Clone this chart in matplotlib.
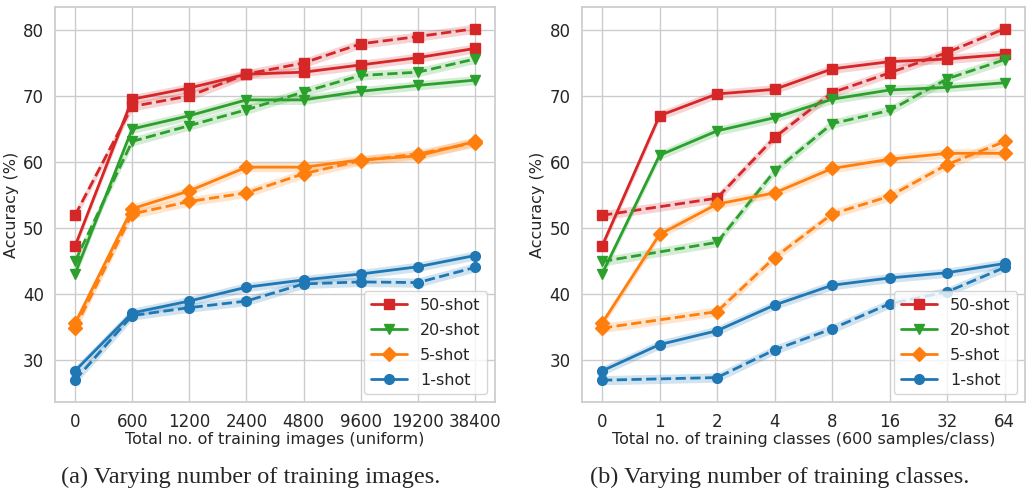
import matplotlib
matplotlib.use("Agg")
import matplotlib.pyplot as plt
import seaborn as sns
import numpy as np

# x tick labels
images_ticks = ["0", "600", "1200", "2400", "4800", "9600", "19200", "38400"]
classes_ticks = ["0", "1", "2", "4", "8", "16", "32", "64"]

shots = ["50-shot", "20-shot", "5-shot", "1-shot"]
colors = ["tab:red", "tab:green", "tab:orange", "tab:blue"]
markers = ["s", "v", "D", "o"]

# (a) varying number of training images: solid / dashed
img_solid = {
    "50-shot": [47.2, 69.5, 71.2, 73.3, 73.6, 74.7, 75.8, 77.2],
    "20-shot": [43.0, 65.0, 67.0, 69.4, 69.4, 70.7, 71.6, 72.4],
    "5-shot": [35.5, 52.9, 55.6, 59.2, 59.2, 60.3, 60.9, 63.1],
    "1-shot": [28.3, 37.1, 38.9, 41.0, 42.1, 43.0, 44.1, 45.8],
}
img_dashed = {
    "50-shot": [51.9, 68.4, 70.0, 73.3, 75.0, 77.9, 79.0, 80.2],
    "20-shot": [44.9, 63.1, 65.5, 67.9, 70.6, 73.1, 73.6, 75.6],
    "5-shot": [34.8, 52.1, 54.0, 55.3, 58.2, 60.2, 61.2, 62.9],
    "1-shot": [26.9, 36.7, 37.9, 38.9, 41.5, 41.8, 41.7, 44.0],
}

# (b) varying number of training classes
cls_solid = {
    "50-shot": [47.2, 67.0, 70.3, 71.0, 74.1, 75.2, 75.6, 76.3],
    "20-shot": [43.0, 61.0, 64.7, 66.7, 69.5, 70.9, 71.3, 72.0],
    "5-shot": [35.5, 49.0, 53.6, 55.3, 59.0, 60.4, 61.3, 61.3],
    "1-shot": [28.3, 32.3, 34.4, 38.3, 41.3, 42.4, 43.2, 44.6],
}
# dashed runs have no point at 1 class
cls_dashed_idx = [0, 2, 3, 4, 5, 6, 7]
cls_dashed = {
    "50-shot": [51.9, 54.5, 63.7, 70.5, 73.5, 76.6, 80.2],
    "20-shot": [44.9, 47.8, 58.6, 65.8, 67.8, 72.6, 75.5],
    "5-shot": [34.8, 37.3, 45.5, 52.1, 54.8, 59.6, 63.1],
    "1-shot": [26.9, 27.3, 31.5, 34.7, 38.5, 40.3, 44.0],
}
ci = 0.7

sns.set_theme(style="whitegrid")
plt.rcParams['font.family'] = ['DejaVu Sans']

fig = plt.figure(figsize=(10.28, 4.92), dpi=100)
ax1 = fig.add_axes([0.0535, 0.183, 0.428, 0.803])
ax2 = fig.add_axes([0.566, 0.183, 0.431, 0.803])


def draw(ax, solid, dashed, dashed_x, ticks, xlabel):
    xs = np.arange(len(ticks))
    for s, c, m in zip(shots, colors, markers):
        y = np.array(solid[s])
        ax.fill_between(xs, y - ci, y + ci, color=c, alpha=0.2, lw=0)
        ax.plot(xs, y, color=c, marker=m, ms=7, lw=2, label=s)
        yd = np.array(dashed[s])
        ax.fill_between(dashed_x, yd - ci, yd + ci, color=c, alpha=0.2, lw=0)
        ax.plot(dashed_x, yd, color=c, marker=m, ms=7, lw=2, ls="--")
    ax.set_xticks(xs)
    ax.set_xticklabels(ticks, fontsize=12)
    ax.set_yticks([30, 40, 50, 60, 70, 80])
    ax.tick_params(axis="y", labelsize=12)
    ax.tick_params(axis="both", pad=2)
    ax.set_xlim(-0.35, 7.35)
    ax.set_ylim(23.6, 83.5)
    ax.set_xlabel(xlabel, fontsize=11.5, labelpad=1)
    ax.set_ylabel("Accuracy (%)", fontsize=11.5, labelpad=3)
    ax.legend(loc="lower right", fontsize=11.5, frameon=True, handlelength=2.3,
              borderaxespad=0.5, labelspacing=0.62)


draw(ax1, img_solid, img_dashed, np.arange(8), images_ticks,
     "Total no. of training images (uniform)")
draw(ax2, cls_solid, cls_dashed, np.array(cls_dashed_idx), classes_ticks,
     "Total no. of training classes (600 samples/class)")

fig.text(0.244, 0.03, "(a) Varying number of training images.", ha="center",
         va="center", fontsize=17.5, family="Liberation Serif")
fig.text(0.758, 0.03, "(b) Varying number of training classes.", ha="center",
         va="center", fontsize=17.5, family="Liberation Serif")

fig.savefig("out.png", dpi=100)
